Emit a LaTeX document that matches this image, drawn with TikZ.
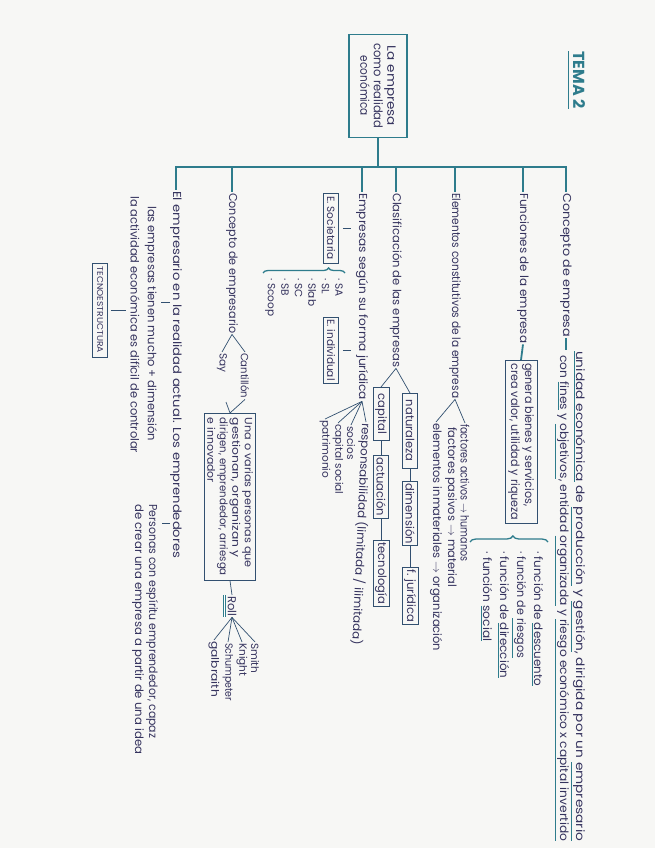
\documentclass[tikz,border=0pt]{standalone}
\usepackage{fontspec}
\usepackage{graphicx}
\setmainfont{Poppins}
\usetikzlibrary{decorations.pathreplacing}

\definecolor{ink}{HTML}{35335E}
\definecolor{penteal}{HTML}{2E7C8C}
\definecolor{paper}{HTML}{F7F7F5}

\newcommand{\keyw}[1]{\textcolor{penteal}{\underline{\textcolor{ink}{#1}}}}
\newcommand{\fitw}[2]{\resizebox{#1}{\height}{#2}}

\tikzset{
  txt/.style={font=\fontsize{11.5}{14}\selectfont, text=ink, inner sep=1pt, anchor=west},
  boxed/.style={txt, draw=ink!60!penteal, line width=0.7pt, inner sep=2pt, minimum height=15pt},
  trunk/.style={draw=penteal, line width=1.8pt},
  thin/.style={draw=ink!60!penteal, line width=0.7pt},
  curly/.style={draw=penteal, line width=1.3pt, decorate},
}

\begin{document}
\begin{tikzpicture}[x=1pt, y=1pt, rotate=-90, transform shape]
\fill[paper] (0,0) rectangle (848,655);
\useasboundingbox (0,0) rectangle (848,655);

% title and root
\node[font=\fontsize{16}{16}\selectfont\bfseries, text=penteal, inner sep=0pt] (tema) at (80,579) {TEMA 2};
\draw[penteal, line width=1.3pt] ([yshift=-4pt]tema.south west) -- ([yshift=-4pt]tema.south east);
\node[txt, font=\fontsize{12}{13.5}\selectfont, draw=penteal, line width=1.8pt, anchor=center, align=center,
      inner sep=3pt, minimum width=103pt, minimum height=58pt] (root) at (86,378)
  {\fitw{80pt}{La empresa}\\\fitw{85pt}{como realidad}\\\fitw{60pt}{económica}};
\coordinate (hub) at (167,378);
\coordinate (tr1) at (167,567);
\coordinate (tr7) at (167,175);
\draw[trunk] (root.east) -- (hub);
\draw[trunk] (tr1) -- (tr7);

% branches
\node[txt] (b1) at (192,566) {\fitw{144pt}{Concepto de empresa}};
\node[txt] (b2) at (192,523) {\fitw{150pt}{Funciones de la empresa}};
\node[txt] (b3) at (192,455) {\fitw{205pt}{Elementos constitutivos de la empresa}};
\node[txt] (b4) at (192,396) {\fitw{174pt}{Clasificación de las empresas}};
\node[txt] (b5) at (192,362) {\fitw{207pt}{Empresas según su forma jurídica}};
\node[txt] (b6) at (192,232) {\fitw{140pt}{Concepto de empresario}};
\node[txt] (b7) at (190,176) {\fitw{367pt}{El empresario en la realidad actual. Los emprendedores}};
\foreach \b/\v in {b1/566,b2/523,b3/455,b4/396,b5/362,b6/232,b7/176} {
  \coordinate (s\b) at (167,\v);
  \draw[trunk] (s\b) -- (\b.west);
}

% concepto de empresa
\node[txt] (def1a) at (350,578)
  {\fitw{490pt}{\keyw{unidad económica} de \keyw{producción} y \keyw{gestión}, dirigida por un \keyw{empresario}}};
\node[txt] (def1b) at (354,562)
  {\fitw{486pt}{con \keyw{fines} y \keyw{objetivos}, entidad \keyw{organizada} y \keyw{riesgo económico x capital invertido}}};
\coordinate (def1) at (350,566);
\draw[trunk] (b1.east) -- (def1);

% funciones
\node[boxed, align=left, inner sep=3pt] (gen) at (360,521)
  {\fitw{143pt}{genera bienes y servicios,}\\\fitw{157pt}{crea valor, utilidad y riqueza}};
\draw[trunk] (b2.east) -- (gen.west);
\coordinate (br2a) at (542,470);
\coordinate (br2b) at (542,548);
\draw[curly, decoration={brace, amplitude=6pt, aspect=0.55}] (br2a) -- (br2b);
\node[txt, align=left, font=\fontsize{11.5}{17}\selectfont] (fun) at (550,512)
  {\fitw{135pt}{· función de \keyw{descuento}}\\\fitw{107pt}{· función de \keyw{riesgos}}\\
   \fitw{127pt}{· función de \keyw{dirección}}\\\fitw{90pt}{· función \keyw{social}}};

% elementos
\node[txt] (ea) at (423,465) {\fitw{137pt}{factores activos $\to$ humanos}};
\node[txt] (ep) at (426,451) {\fitw{160pt}{factores pasivos $\to$ material}};
\node[txt] (ei) at (422,436) {\fitw{228pt}{elementos inmateriales $\to$ organización}};
\draw[thin] (ea.west) -- (b3.east) -- (ei.west);

% clasificacion
\node[boxed, minimum width=75pt] (nat) at (393,410) {naturaleza};
\node[boxed, minimum width=60pt] (dim) at (481,410) {dimensión};
\node[boxed, minimum width=57pt] (fjur) at (567,410) {f. jurídica};
\node[boxed, minimum width=53pt] (cap) at (387,381) {capital};
\node[boxed, minimum width=62pt] (act) at (455,381) {actuación};
\node[boxed, minimum width=63pt] (tec) at (540,381) {tecnología};
\draw[thin] (nat.west) -- (b4.east) -- (cap.west);
\draw[thin] (nat) -- (dim) -- (fjur);
\draw[thin] (cap) -- (act) -- (tec);

% forma juridica
\node[txt, rotate=-2.5] (r1) at (422,366) {\fitw{222pt}{responsabilidad (limitada / ilimitada)}};
\node[txt, font=\fontsize{10.5}{12}\selectfont] (r2) at (425,351) {socios};
\node[txt, font=\fontsize{10.5}{12}\selectfont] (r3) at (423,338) {capital social};
\node[txt, font=\fontsize{10.5}{12}\selectfont] (r4) at (419,325) {patrimonio};
\foreach \r in {r1,r2,r3,r4} \draw[thin] (b5.east) -- (\r.west);
\node[boxed, font=\fontsize{10.5}{12}\selectfont, anchor=center, minimum width=70pt] (soc) at (228,331) {E. Societaria};
\node[boxed, font=\fontsize{10.5}{12}\selectfont, anchor=center, minimum width=66pt] (ind) at (350,331) {E. individual};
\draw[thin, shorten <=4pt, shorten >=4pt] (soc.north) -- (soc.north |- b5.south);
\draw[thin, shorten <=4pt, shorten >=4pt] (ind.north) -- (ind.north |- b5.south);
\coordinate (br5a) at (273,263);
\coordinate (br5b) at (273,345);
\draw[curly, decoration={brace, amplitude=5pt, aspect=0.8}] (br5a) -- (br5b);
\node[txt, align=left, font=\fontsize{10.5}{13.5}\selectfont] (forms) at (277,304)
  {· SA\\· SL\\· Slab\\· SC\\· SB\\· Scoop};

% empresario
\node[txt, font=\fontsize{10.5}{12}\selectfont] (cant) at (352,245) {\fitw{45pt}{Cantillón}};
\node[txt, font=\fontsize{10.5}{12}\selectfont] (say) at (352,222) {Say};
\draw[thin] (cant.west) -- (b6.east) -- (say.west);
\node[boxed, align=left, font=\fontsize{10.5}{12.5}\selectfont, minimum width=167pt, inner sep=3pt] (def6) at (413,230)
  {\fitw{150pt}{Una o varias personas que}\\\fitw{140pt}{gestionan, organizan y}\\
   \fitw{158pt}{dirigen, emprendedor, arriesga}\\\fitw{65pt}{e innovador}};
\coordinate (sayend) at (402,226);
\draw[thin] (cant.east) -- (def6.west) -- (sayend);
\node[txt] (roll) at (595,232) {Roll};
\draw[thin] (def6.east) -- (roll.west);
\draw[penteal, line width=0.8pt, double, double distance=1.2pt] ([yshift=-2pt]roll.south west) -- ([yshift=-2pt]roll.south east);
\node[txt, font=\fontsize{10.5}{12}\selectfont] (smith) at (642,255) {Smith};
\node[txt, font=\fontsize{10.5}{12}\selectfont] (knight) at (642,242) {Knight};
\node[txt, font=\fontsize{10.5}{12}\selectfont] (schum) at (642,228) {\fitw{58pt}{Schumpeter}};
\node[txt, font=\fontsize{10.5}{12}\selectfont] (galb) at (640,214) {\fitw{56pt}{galbraith}};
\foreach \n in {smith,knight,schum,galb} \draw[thin] (roll.east) -- (\n.west);

% realidad actual
\node[txt] (dimtxt) at (205,151) {\fitw{235pt}{las empresas tienen mucho + dimensión}};
\node[txt] (ctrl) at (195,135) {\fitw{257pt}{la actividad económica es difícil de controlar}};
\coordinate (act7) at (302,176);
\draw[thin, shorten <=6pt, shorten >=3pt] (act7) -- (act7 |- dimtxt.north);
\node[boxed, anchor=center, font=\fontsize{8.5}{9}\selectfont, minimum width=94pt] (tecno) at (310,100) {\fitw{86pt}{TECNOESTRUCTURA}};
\draw[thin, shorten <=3pt, shorten >=3pt] (tecno.north) -- (tecno.north |- ctrl.south);
\node[txt, align=left] (pers) at (503,145)
  {\fitw{234pt}{Personas con espíritu emprendedor, capaz}\\\fitw{250pt}{de crear una empresa a partir de una idea}};
\coordinate (emp) at (523,176);
\draw[thin, shorten <=6pt, shorten >=3pt] (emp) -- (emp |- pers.north);
\end{tikzpicture}
\end{document}
